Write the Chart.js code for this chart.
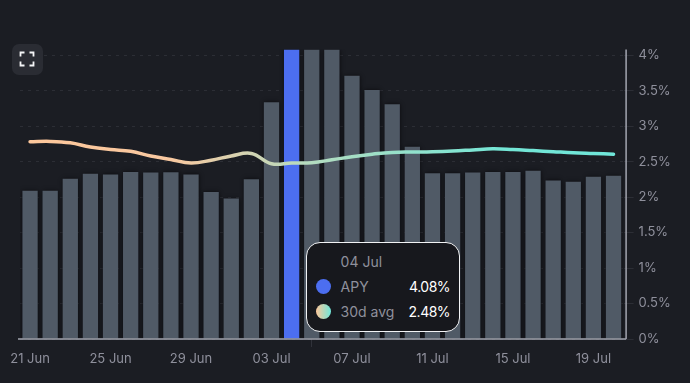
<!DOCTYPE html>
<html>
<head>
<meta charset="utf-8">
<script src="https://cdn.jsdelivr.net/npm/chart.js@4"></script>
<style>
    html, body { margin: 0; padding: 0; background: #1b1d23; }
    #wrap { position: relative; width: 690px; height: 383px; overflow: hidden; font-family: Inter, sans-serif; }
    #apyChart { position: absolute; left: 0; top: 0; }
    #fullscreen { position: absolute; left: 12px; top: 44px; width: 30.5px; height: 30.5px; border-radius: 7px; background: #2a2c33; }
    #fullscreen svg { position: absolute; left: 7.25px; top: 7.25px; }
    #tip { position: absolute; box-sizing: border-box; width: 154px; height: 90.5px; background: #17181d; border: 1.5px solid #f2f3f5; border-radius: 14px; font-size: 14px; color: #8f909c; display: none; }
    #tip div { position: absolute; white-space: nowrap; line-height: 18px; }
    #tip .dot { width: 15px; height: 15px; border-radius: 50%; left: 9px; }
    #tip .val { right: 9px; color: #fff; letter-spacing: -0.5px; }
</style>
</head>
<body>
<div id="wrap">
    <canvas id="apyChart" width="690" height="383"></canvas>
    <div id="fullscreen">
        <svg width="16" height="16" viewBox="0 0 16 16" fill="none" stroke="#f4f5f7" stroke-width="1.8">
            <path d="M1.5 5.5V1.5H5.5M10.5 1.5H14.5V5.5M14.5 10.5V14.5H10.5M5.5 14.5H1.5V10.5"/>
        </svg>
    </div>
    <div id="tip"></div>
</div>
<script>
    const days = ['21 Jun', '22 Jun', '23 Jun', '24 Jun', '25 Jun', '26 Jun', '27 Jun', '28 Jun', '29 Jun', '30 Jun',
        '01 Jul', '02 Jul', '03 Jul', '04 Jul', '05 Jul', '06 Jul', '07 Jul', '08 Jul', '09 Jul', '10 Jul',
        '11 Jul', '12 Jul', '13 Jul', '14 Jul', '15 Jul', '16 Jul', '17 Jul', '18 Jul', '19 Jul', '20 Jul'];
    const apy = [2.09, 2.09, 2.26, 2.33, 2.32, 2.355, 2.345, 2.35, 2.32, 2.07,
        1.98, 2.25, 3.335, 4.08, 4.08, 4.08, 3.71, 3.51, 3.31, 2.71,
        2.335, 2.335, 2.345, 2.355, 2.355, 2.37, 2.235, 2.215, 2.285, 2.30];
    const avg30d = [2.78, 2.785, 2.765, 2.705, 2.67, 2.645, 2.58, 2.53, 2.48, 2.52,
        2.58, 2.615, 2.47, 2.48, 2.485, 2.525, 2.57, 2.605, 2.63, 2.635,
        2.64, 2.65, 2.665, 2.68, 2.67, 2.655, 2.64, 2.625, 2.615, 2.605];
    const yTicks = [0, 0.5, 1, 1.5, 2, 2.5, 3, 3.5, 4];
    const yMax = 4.08;
    const activeDay = 13;

    const peach = '#fdc79b';
    const teal = '#6fe6d9';
    const tickColor = '#8f909c';

    // Line colour runs from peach to teal across the plot
    function lineGradient(context) {
        const area = context.chart.chartArea;
        if (!area) return peach;
        const g = context.chart.ctx.createLinearGradient(area.left, 0, area.right, 0);
        g.addColorStop(0, peach);
        g.addColorStop(0.25, '#f8c8a0');
        g.addColorStop(0.48, '#b4dcc0');
        g.addColorStop(0.8, '#74e6d6');
        g.addColorStop(1, teal);
        return g;
    }

    // HTML tooltip so the values can sit right aligned
    function renderTip({ chart, tooltip }) {
        const tip = document.getElementById('tip');
        if (tooltip.opacity === 0) {
            tip.style.display = 'none';
            return;
        }
        const i = tooltip.dataPoints[0].dataIndex;
        tip.style.display = 'block';
        tip.style.left = (chart.scales.x.getPixelForValue(i) + 14.5) + 'px';
        tip.style.top = '241.5px';
        tip.innerHTML = `
            <div style="left:33.5px;top:10px">${days[i]}</div>
            <div class="dot" style="top:36px;background:#4c6ef0"></div>
            <div style="left:33.5px;top:35px">APY</div>
            <div class="val" style="top:35px">${apy[i].toFixed(2)}%</div>
            <div class="dot" style="top:61px;background:linear-gradient(90deg,${peach},${teal})"></div>
            <div style="left:33.5px;top:60px">30d avg</div>
            <div class="val" style="top:60px">${avg30d[i].toFixed(2)}%</div>`;
    }

    // Solid axis lines stick out a little past the bars
    const axisLines = {
        id: 'axisLines',
        afterDatasetsDraw(chart) {
            const { ctx, chartArea: a } = chart;
            ctx.save();
            ctx.strokeStyle = '#a3a5b0';
            ctx.lineWidth = 1.5;
            ctx.beginPath();
            ctx.moveTo(a.left - 2, a.bottom);
            ctx.lineTo(a.right + 2.5, a.bottom);
            ctx.moveTo(a.right + 2.5, a.top);
            ctx.lineTo(a.right + 2.5, a.bottom);
            ctx.stroke();
            ctx.restore();
        }
    };

    // Dark halo round the bars
    const barShadow = {
        id: 'barShadow',
        beforeDatasetDraw(chart, args) {
            if (args.meta.type !== 'bar') return;
            chart.ctx.save();
            chart.ctx.shadowColor = '#0b0c0f';
            chart.ctx.shadowBlur = 4;
        },
        afterDatasetDraw(chart, args) {
            if (args.meta.type === 'bar') chart.ctx.restore();
        }
    };

    const chart = new Chart(document.getElementById('apyChart'), {
        data: {
            labels: days,
            datasets: [{
                type: 'line',
                label: '30d avg',
                data: avg30d,
                order: 0,
                borderColor: lineGradient,
                borderWidth: 3.5,
                borderCapStyle: 'round',
                tension: 0.4,
                pointRadius: 0,
                pointHoverRadius: 0
            }, {
                type: 'bar',
                label: 'APY',
                data: apy,
                order: 1,
                backgroundColor: days.map((d, i) => i === activeDay ? '#4c6ef0' : '#505a66'),
                hoverBackgroundColor: days.map((d, i) => i === activeDay ? '#4c6ef0' : '#505a66'),
                categoryPercentage: 1,
                barPercentage: 0.76
            }]
        },
        options: {
            responsive: false,
            animation: false,
            layout: { padding: { left: 20, top: 49.5, right: 0, bottom: 0 } },
            plugins: {
                legend: { display: false },
                tooltip: { enabled: false, mode: 'index', intersect: false, external: renderTip }
            },
            scales: {
                x: {
                    afterFit: (scale) => { scale.height = 44; },
                    border: { display: false },
                    grid: {
                        drawOnChartArea: false,
                        tickLength: 8,
                        color: (ctx) => ctx.index % 4 === 0 ? '#30323a' : 'transparent'
                    },
                    ticks: {
                        autoSkip: false,
                        maxRotation: 0,
                        padding: 4,
                        color: tickColor,
                        font: { family: 'Inter', size: 13 },
                        callback: (value, i) => i % 4 === 0 ? days[i] : null
                    }
                },
                y: {
                    position: 'right',
                    min: 0,
                    max: yMax,
                    afterFit: (scale) => { scale.width = 66.4; },
                    afterBuildTicks: (scale) => { scale.ticks = yTicks.map(v => ({ value: v })); },
                    border: { display: false, dash: [3, 5] },
                    grid: { color: '#2c2e35', tickLength: 10 },
                    ticks: {
                        padding: 5,
                        color: tickColor,
                        font: { family: 'Inter', size: 13 },
                        callback: (value) => value + '%'
                    }
                }
            }
        },
        plugins: [axisLines, barShadow]
    });

    // Hold the tooltip open on the highlighted day
    chart.tooltip.setActiveElements([{ datasetIndex: 1, index: activeDay }, { datasetIndex: 0, index: activeDay }], { x: 0, y: 0 });
    chart.update();
</script>
</body>
</html>
